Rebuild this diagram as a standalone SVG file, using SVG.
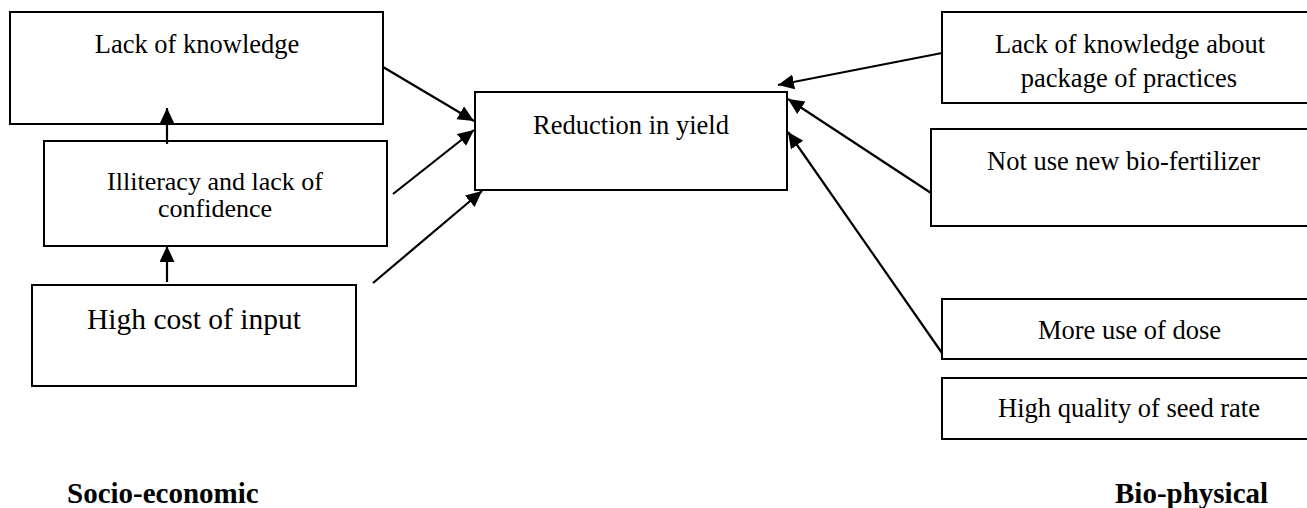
<svg xmlns="http://www.w3.org/2000/svg" width="1307" height="508" viewBox="0 0 1307 508">
  <style>
    .box { fill: #fff; stroke: #000; stroke-width: 2; }
    .txt { font-family: "Liberation Serif", "Times New Roman", serif; font-size: 26.5px; fill: #000; text-anchor: middle; }
    .big { font-size: 29.5px; }
    .tight { font-size: 26px; }
    .head { font-family: "Liberation Serif", "Times New Roman", serif; font-size: 29px; font-weight: bold; fill: #000; }
    .link { stroke: #000; stroke-width: 2.2; fill: none; marker-end: url(#arrow); }
  </style>
  <defs>
    <marker id="arrow" markerUnits="userSpaceOnUse" markerWidth="18" markerHeight="16" refX="16" refY="7.5" orient="auto">
      <path d="M0,0 L16,7.5 L0,15 Z" fill="#000"/>
    </marker>
  </defs>

  <rect width="1307" height="508" fill="#fff"/>

  <!-- socio-economic causes -->
  <g id="lack-of-knowledge">
    <rect class="box" x="10" y="12" width="373" height="112"/>
    <text class="txt" x="197" y="53">Lack of knowledge</text>
  </g>
  <g id="illiteracy">
    <rect class="box" x="44" y="141" width="343" height="105"/>
    <text class="txt tight" x="215" y="190">Illiteracy and lack of</text>
    <text class="txt tight" x="215" y="216.5">confidence</text>
  </g>
  <g id="high-cost">
    <rect class="box" x="32" y="285" width="324" height="101"/>
    <text class="txt big" x="194" y="329">High cost of input</text>
  </g>

  <!-- central effect -->
  <g id="reduction-in-yield">
    <rect class="box" x="475" y="92" width="312" height="98"/>
    <text class="txt" x="631" y="134">Reduction in yield</text>
  </g>

  <!-- bio-physical causes -->
  <g id="package-of-practices">
    <rect class="box" x="942" y="12" width="380" height="91"/>
    <text class="txt" x="1130" y="53">Lack of knowledge about</text>
    <text class="txt" x="1129" y="87">package of practices</text>
  </g>
  <g id="bio-fertilizer">
    <rect class="box" x="931" y="129" width="390" height="97"/>
    <text class="txt" x="1123.5" y="170">Not use new bio-fertilizer</text>
  </g>
  <g id="dose">
    <rect class="box" x="942" y="299" width="380" height="60"/>
    <text class="txt" x="1129.5" y="339">More use of dose</text>
  </g>
  <g id="seed-rate">
    <rect class="box" x="942" y="378" width="380" height="61"/>
    <text class="txt" x="1129" y="417">High quality of seed rate</text>
  </g>

  <!-- group captions -->
  <g id="captions">
    <text class="head" x="67" y="503">Socio-economic</text>
    <text class="head" x="1115" y="503">Bio-physical</text>
  </g>

  <!-- connectors -->
  <g id="connectors">
    <line class="link" x1="383" y1="67" x2="474" y2="121"/>
    <line class="link" x1="393" y1="194" x2="474" y2="130"/>
    <line class="link" x1="373" y1="283" x2="482" y2="191"/>
    <line class="link" x1="942" y1="53" x2="778" y2="85"/>
    <line class="link" x1="931" y1="193" x2="788" y2="99"/>
    <line class="link" x1="942" y1="353" x2="788" y2="132"/>
    <line class="link" x1="167" y1="144" x2="167" y2="108"/>
    <line class="link" x1="167" y1="282" x2="167" y2="246"/>
  </g>
</svg>
